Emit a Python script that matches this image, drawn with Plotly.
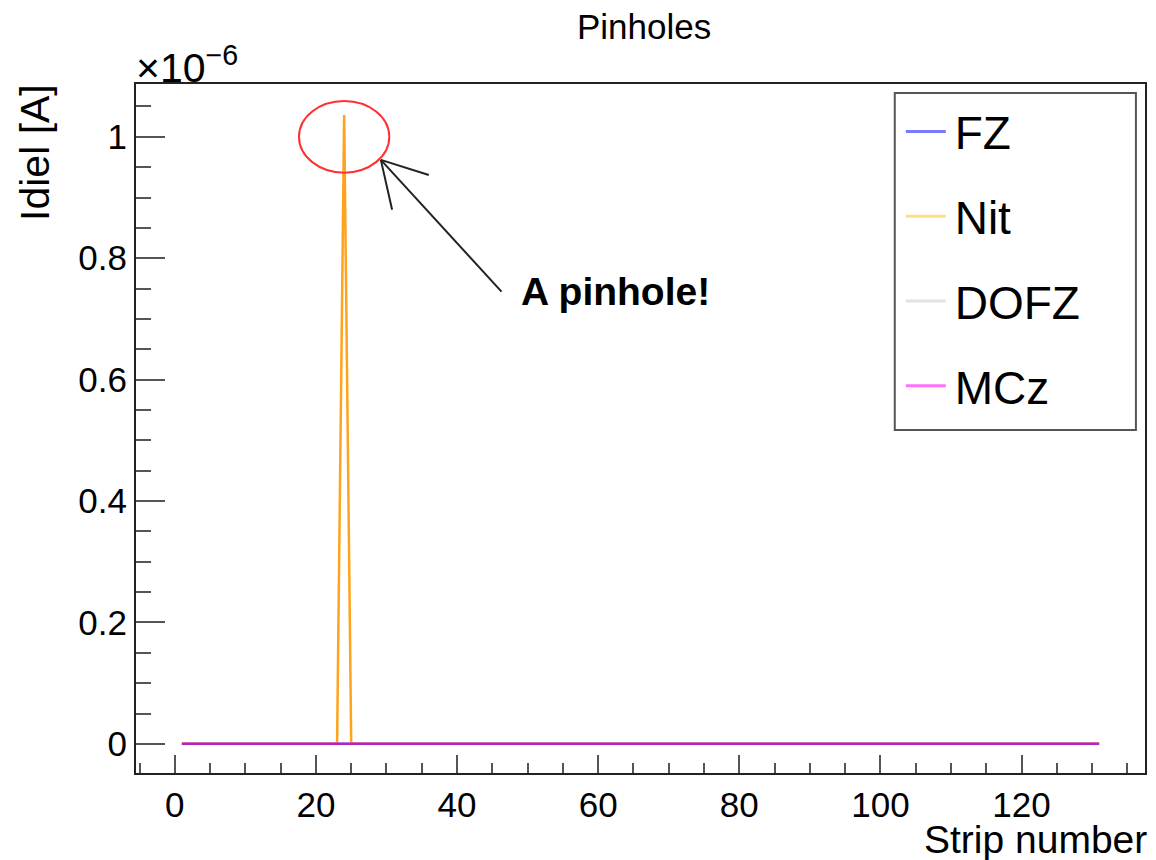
import plotly.graph_objects as go

# ---- data ----
strips = list(range(1, 132))
fz = [0.0] * 131
nit = [0.0] * 22 + [0.0, 1.036e-6, 0.0] + [0.0] * 106
dofz = [0.0] * 131
mcz = [0.0] * 131

series_names = ["FZ", "Nit", "DOFZ", "MCz"]
series_values = [fz, nit, dofz, mcz]
draw_colors = ["rgba(110,110,255,0.7)", "#ffa21c", "rgba(210,210,210,0.6)", "#b322c6"]
legend_colors = ["#7878ff", "#ffe07a", "#e2e2e2", "#ff70ff"]

y_tickvals = [0, 0.2e-6, 0.4e-6, 0.6e-6, 0.8e-6, 1.0e-6]
y_ticktext = ["0", "0.2", "0.4", "0.6", "0.8", "1"]

FONT = "Liberation Sans, Arial, Helvetica, sans-serif"

fig = go.Figure()
for name, vals, col in zip(series_names, series_values, draw_colors):
    fig.add_trace(go.Scatter(x=strips, y=vals, mode="lines", name=name,
                             line=dict(color=col, width=2.5), showlegend=False))
for i, (name, col) in enumerate(zip(series_names, legend_colors)):
    fig.add_trace(go.Scatter(x=[None], y=[None], mode="lines", name="\u200a" + name,
                             legendgroup=f"g{i}",
                             line=dict(color=col, width=3), showlegend=True))

axis_common = dict(showgrid=False, zeroline=False, showline=True, mirror=True,
                   linecolor="#222222", linewidth=2, ticks="inside",
                   tickcolor="#555555", tickwidth=2,
                   tickfont=dict(family=FONT, size=35, color="#000000"))

fig.update_xaxes(range=[-5.5, 137.5], tick0=0, dtick=20, ticklen=18,
                 minor=dict(dtick=5, tick0=0, ticklen=10, ticks="inside",
                            tickcolor="#555555", tickwidth=2),
                 **axis_common)
fig.update_yaxes(range=[-0.048e-6, 1.087e-6], tickmode="array",
                 tickvals=y_tickvals, ticktext=y_ticktext, ticklen=29,
                 minor=dict(dtick=0.05e-6, tick0=0, ticklen=15, ticks="inside",
                            tickcolor="#555555", tickwidth=2),
                 **axis_common)

# legend box
fig.add_shape(type="rect", xref="paper", yref="paper",
              x0=0.752, x1=0.991, y0=0.498, y1=0.987,
              line=dict(color="#555555", width=2), fillcolor="white", layer="above")

# pinhole circle and arrow
fig.add_shape(type="circle", xref="x", yref="y", x0=17.6, x1=30.4,
              y0=0.941e-6, y1=1.059e-6, line=dict(color="#ff3030", width=2))
arrow_tip = (29.2, 0.962e-6)
arrow_tail = (46.3, 0.745e-6)
arrow_heads = [(36.0, 0.937e-6), (30.8, 0.880e-6)]
fig.add_shape(type="line", xref="x", yref="y", x0=arrow_tail[0], y0=arrow_tail[1],
              x1=arrow_tip[0], y1=arrow_tip[1], line=dict(color="#222222", width=2))
for hx, hy in arrow_heads:
    fig.add_shape(type="line", xref="x", yref="y", x0=arrow_tip[0], y0=arrow_tip[1],
                  x1=hx, y1=hy, line=dict(color="#222222", width=2))

fig.add_annotation(x=48.8, y=0.745e-6, xref="x", yref="y", text="<b>A pinhole!</b>",
                   showarrow=False, xanchor="left", yanchor="middle",
                   font=dict(family=FONT, size=39, color="#000000"))

# title, axis titles, exponent
fig.add_annotation(x=0.503, y=(773 - 27) / 689, xref="paper", yref="paper",
                   text="Pinholes", showarrow=False, xanchor="center", yanchor="middle",
                   font=dict(family=FONT, size=35, color="#000000"))
fig.add_annotation(x=-0.0999, y=1.0025, xref="paper", yref="paper",
                   text="Idiel [A]", textangle=-90, showarrow=False,
                   xanchor="center", yanchor="top",
                   font=dict(family=FONT, size=41, color="#000000"))
fig.add_annotation(x=1.004, y=-86 / 689, xref="paper", yref="paper",
                   text="Strip number", showarrow=False,
                   xanchor="right", yanchor="bottom", yshift=-4,
                   font=dict(family=FONT, size=39, color="#000000"))
fig.add_annotation(x=-0.002, y=1.0, xref="paper", yref="paper",
                   text="×10<sup>−6</sup>", showarrow=False,
                   xanchor="left", yanchor="bottom", yshift=-9,
                   font=dict(family=FONT, size=41, color="#000000"))

fig.update_layout(
    width=1156, height=860,
    margin=dict(l=136, r=9, t=84, b=87),
    plot_bgcolor="white", paper_bgcolor="white",
    showlegend=True,
    legend=dict(x=0.758, y=0.984, xanchor="left", yanchor="top",
                bgcolor="rgba(0,0,0,0)", borderwidth=0,
                font=dict(family=FONT, size=46, color="#000000"),
                itemwidth=40, tracegroupgap=22, traceorder="grouped"),
)

fig.write_html("out.html")
